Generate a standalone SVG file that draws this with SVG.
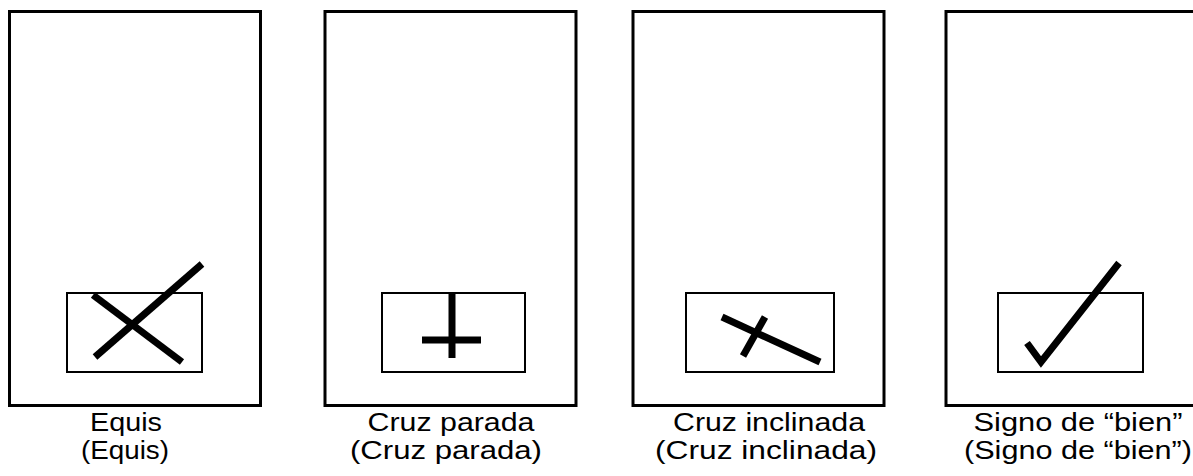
<svg xmlns="http://www.w3.org/2000/svg" width="1193" height="476" viewBox="0 0 1193 476">
<style>
.outer{fill:#fff;stroke:#000;stroke-width:3}
.inner{fill:none;stroke:#000;stroke-width:2}
.mark{fill:none;stroke:#000;stroke-width:7;stroke-linecap:butt;stroke-linejoin:miter}
.lbl{font-family:"Liberation Sans",Arial,sans-serif;font-size:25px;fill:#000;text-anchor:middle}
</style>
<rect width="1193" height="476" fill="#fff"/>
<g id="equis">
<rect class="outer" x="9.5" y="11.5" width="251" height="394"/>
<rect class="inner" x="67" y="293" width="135" height="79"/>
<line class="mark" x1="95" y1="357" x2="202" y2="264"/>
<line class="mark" x1="93" y1="295" x2="182" y2="362"/>
<text class="lbl" x="126" y="431" textLength="72" lengthAdjust="spacingAndGlyphs">Equis</text>
<text class="lbl" x="125" y="459" textLength="88" lengthAdjust="spacingAndGlyphs">(Equis)</text>
</g>
<g id="cruz-parada">
<rect class="outer" x="325" y="11.5" width="251" height="394"/>
<rect class="inner" x="382" y="293" width="143" height="79"/>
<line class="mark" x1="452" y1="293" x2="452" y2="358"/>
<line class="mark" x1="422" y1="340" x2="481" y2="340"/>
<text class="lbl" x="451" y="431" textLength="167" lengthAdjust="spacingAndGlyphs">Cruz parada</text>
<text class="lbl" x="446" y="459" textLength="192" lengthAdjust="spacingAndGlyphs">(Cruz parada)</text>
</g>
<g id="cruz-inclinada">
<rect class="outer" x="633" y="11.5" width="251" height="394"/>
<rect class="inner" x="686" y="293" width="148" height="79"/>
<line class="mark" x1="722" y1="317" x2="820" y2="362"/>
<line class="mark" x1="765" y1="317" x2="743" y2="356"/>
<text class="lbl" x="769" y="431" textLength="192" lengthAdjust="spacingAndGlyphs">Cruz inclinada</text>
<text class="lbl" x="766" y="459" textLength="222" lengthAdjust="spacingAndGlyphs">(Cruz inclinada)</text>
</g>
<g id="signo-bien">
<rect class="outer" x="946" y="11.5" width="260" height="394"/>
<rect class="inner" x="998" y="293" width="145" height="79"/>
<polyline class="mark" points="1027,343 1041,362 1119,263"/>
<text class="lbl" x="1078" y="431" textLength="209" lengthAdjust="spacingAndGlyphs">Signo de “bien”</text>
<text class="lbl" x="1078" y="459" textLength="228" lengthAdjust="spacingAndGlyphs">(Signo de “bien”)</text>
</g>
<g id="connectors"></g>
</svg>
